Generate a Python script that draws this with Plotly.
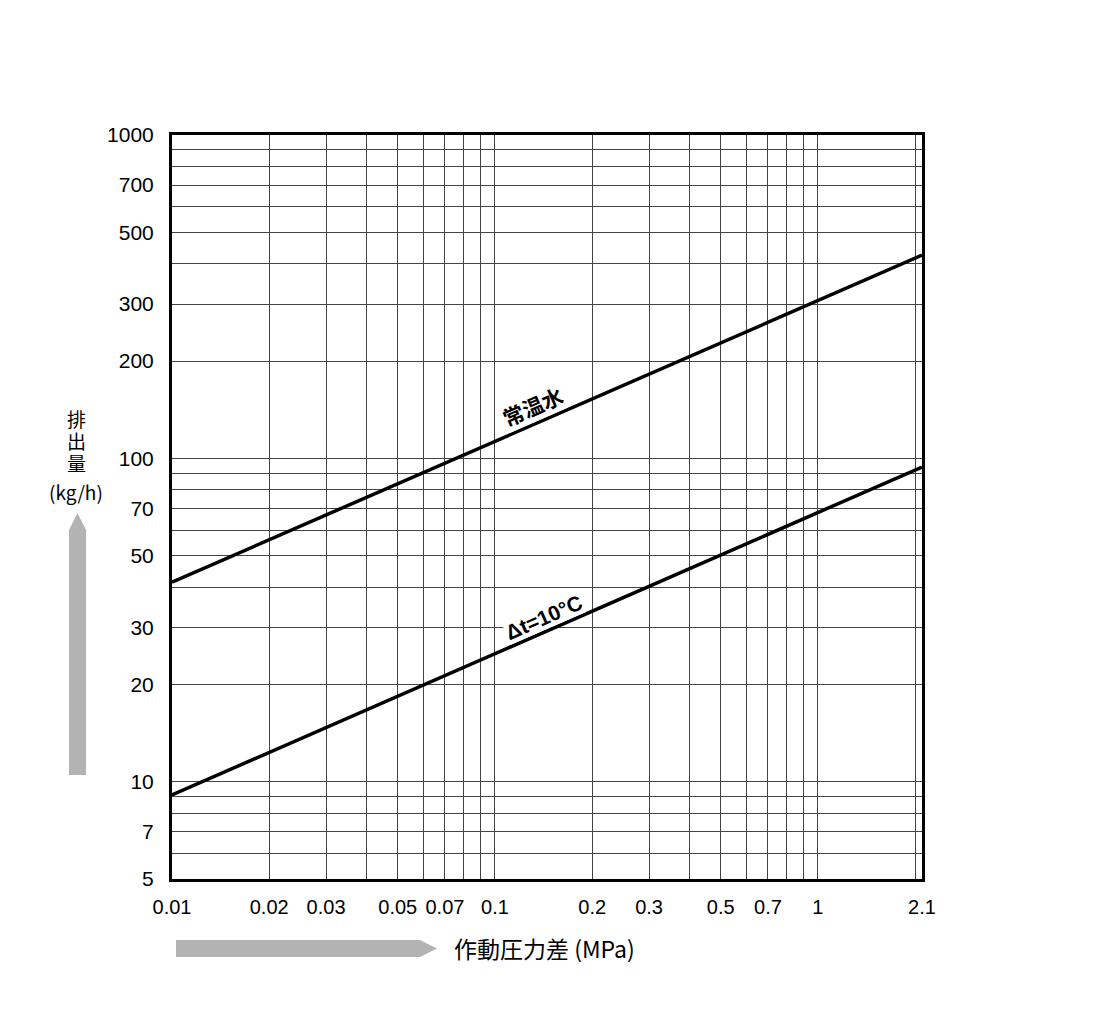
import numpy as np
import plotly.graph_objects as go

# operating pressure difference (MPa) and discharge (kg/h)
pressure = [0.01, 2.1]
flow_cold_water = [41.4, 425]
flow_dt10 = [9.1, 94]

x_grid = [0.01, 0.02, 0.03, 0.04, 0.05, 0.06, 0.07, 0.08, 0.09,
          0.1, 0.2, 0.3, 0.4, 0.5, 0.6, 0.7, 0.8, 0.9, 1, 2, 2.1]
x_labels = {0.01: '0.01', 0.02: '0.02', 0.03: '0.03', 0.05: '0.05', 0.07: '0.07',
            0.1: '0.1', 0.2: '0.2', 0.3: '0.3', 0.5: '0.5', 0.7: '0.7', 1: '1', 2.1: '2.1'}
y_grid = [5, 6, 7, 8, 9, 10, 20, 30, 40, 50, 60, 70, 80, 90,
          100, 200, 300, 400, 500, 600, 700, 800, 900, 1000]
y_labels = {5: '5', 7: '7', 10: '10', 20: '20', 30: '30', 50: '50', 70: '70',
            100: '100', 200: '200', 300: '300', 500: '500', 700: '700', 1000: '1000'}

# page offset of the plot div (body margin)
OFF = 8
W, H = 1084, 1004
L, T = 172 - OFF, 135 - OFF
R = W - (922 - OFF)
B = H - (879 - OFF)
pw, ph = W - L - R, H - T - B


def px(x):
    return (x - OFF - L) / pw


def py(y):
    return (H - B - (y - OFF)) / ph


fig = go.Figure()
fig.add_trace(go.Scatter(x=pressure, y=flow_cold_water, mode='lines',
                         line=dict(color='black', width=3.5), showlegend=False))
fig.add_trace(go.Scatter(x=pressure, y=flow_dt10, mode='lines',
                         line=dict(color='black', width=3.5), showlegend=False))

font = 'Liberation Sans, Arial, sans-serif'
cjk = 'Noto Sans CJK JP, sans-serif'

fig.update_xaxes(type='log', range=[np.log10(0.01), np.log10(2.1)],
                 tickvals=x_grid, ticktext=[x_labels.get(v, '') for v in x_grid],
                 showgrid=True, gridcolor='#444444', gridwidth=1,
                 showline=True, linecolor='black', linewidth=3, mirror=True,
                 ticks='', ticklabelstandoff=8,
                 tickfont=dict(family=font, size=20, color='black'),
                 zeroline=False)
fig.update_yaxes(type='log', range=[np.log10(5), np.log10(1000)],
                 tickvals=y_grid, ticktext=[y_labels.get(v, '') for v in y_grid],
                 showgrid=True, gridcolor='#444444', gridwidth=1,
                 showline=True, linecolor='black', linewidth=3, mirror=True,
                 ticks='', ticklabelstandoff=11,
                 tickfont=dict(family=font, size=21, color='black'),
                 zeroline=False)

fig.add_annotation(x=np.log10(0.131), y=np.log10(145), text='<b>常温水</b>',
                   showarrow=False, textangle=-23.6, bgcolor='white', borderpad=0,
                   font=dict(family=cjk, size=21, color='black'))
fig.add_annotation(x=np.log10(0.141), y=np.log10(32.3), text='<b>Δt=10°C</b>',
                   showarrow=False, textangle=-23.6, bgcolor='white', borderpad=0,
                   font=dict(family=font, size=21, color='black'))

# axis titles
fig.add_annotation(xref='paper', yref='paper', x=px(452), y=py(948),
                   xanchor='left', yanchor='middle', showarrow=False,
                   text='作動圧力差 (MPa)', font=dict(family=cjk, size=23, color='black'))
for ch, yc in [('排', 418), ('出', 440), ('量', 462), ('(kg/h)', 491)]:
    fig.add_annotation(xref='paper', yref='paper', x=px(76), y=py(yc),
                       xanchor='center', yanchor='middle', showarrow=False,
                       borderpad=0, text=ch, font=dict(family=cjk, size=19, color='black'))

# gray arrows
arrow = '#b3b3b3'
fig.add_shape(type='path', xref='paper', yref='paper', line=dict(width=0), fillcolor=arrow,
              path=(f'M {px(69)} {py(775)} L {px(86)} {py(775)} L {px(86)} {py(530)} '
                    f'L {px(77.5)} {py(513)} L {px(69)} {py(530)} Z'))
fig.add_shape(type='path', xref='paper', yref='paper', line=dict(width=0), fillcolor=arrow,
              path=(f'M {px(176)} {py(940)} L {px(420)} {py(940)} L {px(437)} {py(948.5)} '
                    f'L {px(420)} {py(957)} L {px(176)} {py(957)} Z'))

fig.update_layout(width=W, height=H, margin=dict(l=L, r=R, t=T, b=B),
                  plot_bgcolor='white', paper_bgcolor='white')

fig.write_html('out.html')
